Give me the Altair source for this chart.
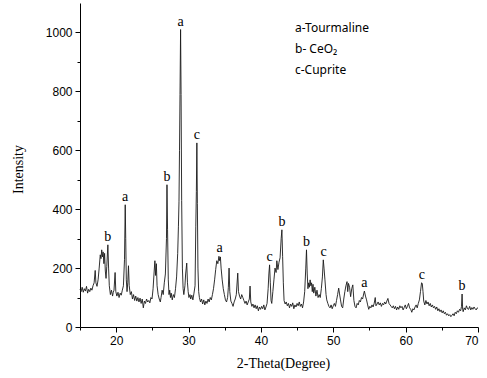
import altair as alt
import pandas as pd

two_theta = [
    15.0, 15.15, 15.3, 15.45, 15.6, 15.75, 15.9, 16.05, 16.2, 16.35, 16.5, 16.65, 16.8, 16.95,
    17.1, 17.2, 17.35, 17.5, 17.65, 17.8, 17.9, 18.0, 18.1, 18.2, 18.3, 18.4, 18.5, 18.6, 18.7,
    18.85, 18.95, 19.05, 19.2, 19.35, 19.5, 19.6, 19.7, 19.85, 19.95, 20.1, 20.25, 20.4, 20.55,
    20.7, 20.85, 21.0, 21.15, 21.25, 21.32, 21.4, 21.5, 21.6, 21.7, 21.8, 21.95, 22.1, 22.25,
    22.4, 22.55, 22.7, 22.85, 23.0, 23.15, 23.3, 23.45, 23.6, 23.75, 23.9, 24.05, 24.2, 24.35,
    24.5, 24.65, 24.8, 24.95, 25.1, 25.25, 25.35, 25.45, 25.55, 25.65, 25.8, 25.95, 26.1, 26.2,
    26.35, 26.5, 26.65, 26.8, 26.95, 27.02, 27.1, 27.2, 27.3, 27.4, 27.5, 27.6, 27.75, 27.9,
    28.05, 28.2, 28.35, 28.5, 28.6, 28.68, 28.75, 28.82, 28.9, 28.97, 29.05, 29.15, 29.25, 29.35,
    29.5, 29.6, 29.75, 29.85, 29.95, 30.05, 30.2, 30.3, 30.45, 30.6, 30.75, 30.9, 31.0, 31.08,
    31.15, 31.22, 31.3, 31.4, 31.5, 31.65, 31.8, 31.95, 32.1, 32.25, 32.4, 32.55, 32.7, 32.85,
    33.0, 33.15, 33.3, 33.45, 33.6, 33.75, 33.9, 34.05, 34.2, 34.3, 34.4, 34.5, 34.65, 34.8,
    34.95, 35.1, 35.25, 35.4, 35.5, 35.6, 35.7, 35.85, 36.0, 36.15, 36.3, 36.45, 36.6, 36.8,
    36.9, 37.05, 37.2, 37.35, 37.5, 37.65, 37.8, 37.95, 38.1, 38.25, 38.4, 38.5, 38.6, 38.75,
    38.9, 39.05, 39.2, 39.35, 39.5, 39.65, 39.8, 39.95, 40.1, 40.25, 40.4, 40.55, 40.7, 40.85,
    41.0, 41.1, 41.2, 41.3, 41.4, 41.5, 41.65, 41.8, 41.95, 42.1, 42.2, 42.35, 42.5, 42.65,
    42.8, 42.9, 43.0, 43.1, 43.2, 43.35, 43.5, 43.65, 43.8, 43.95, 44.1, 44.25, 44.4, 44.55,
    44.7, 44.85, 45.0, 45.15, 45.3, 45.45, 45.6, 45.75, 45.9, 46.05, 46.2, 46.3, 46.4, 46.5,
    46.6, 46.7, 46.8, 46.9, 47.0, 47.1, 47.2, 47.3, 47.45, 47.6, 47.75, 47.9, 48.05, 48.2,
    48.35, 48.5, 48.62, 48.72, 48.85, 49.0, 49.1, 49.25, 49.4, 49.55, 49.7, 49.85, 50.0, 50.15,
    50.3, 50.45, 50.6, 50.75, 50.85, 51.0, 51.15, 51.3, 51.45, 51.6, 51.75, 51.9, 52.0, 52.1,
    52.25, 52.4, 52.55, 52.7, 52.85, 53.0, 53.15, 53.3, 53.45, 53.6, 53.75, 53.9, 54.05, 54.2,
    54.3, 54.45, 54.6, 54.75, 54.9, 55.05, 55.2, 55.35, 55.5, 55.65, 55.8, 55.9, 56.05, 56.2,
    56.35, 56.5, 56.65, 56.8, 56.95, 57.1, 57.25, 57.4, 57.55, 57.7, 57.85, 58.0, 58.15, 58.3,
    58.45, 58.6, 58.75, 58.9, 59.05, 59.2, 59.35, 59.5, 59.65, 59.8, 59.95, 60.1, 60.25, 60.4,
    60.55, 60.7, 60.85, 61.0, 61.15, 61.3, 61.45, 61.6, 61.75, 61.9, 62.05, 62.2, 62.3, 62.4,
    62.5, 62.65, 62.8, 62.95, 63.1, 63.25, 63.4, 63.55, 63.7, 63.85, 64.0, 64.15, 64.3, 64.45,
    64.6, 64.75, 64.9, 65.05, 65.2, 65.35, 65.5, 65.65, 65.8, 65.95, 66.1, 66.25, 66.4, 66.55,
    66.7, 66.85, 67.0, 67.15, 67.3, 67.45, 67.6, 67.72, 67.8, 67.88, 67.95, 68.1, 68.25, 68.4,
    68.55, 68.7, 68.85, 69.0, 69.15, 69.3, 69.45, 69.6, 69.75, 69.9, 70.0,
]

intensity = [
    128, 120, 135, 118, 130, 122, 138, 115, 128, 120, 132, 125, 140, 150,
    192, 150, 138, 160, 200, 245, 232, 262, 238, 255, 215, 250, 190, 165, 205,
    279, 200, 140, 110, 125, 105, 118, 125, 185, 120, 105, 118, 100, 115,
    108, 125, 140, 230, 415, 300, 160, 120, 150, 208, 140, 110, 120, 95,
    110, 90, 105, 88, 100, 85, 98, 80, 95, 65, 88, 80, 95, 85,
    90, 82, 100, 95, 130, 190, 225, 175, 215, 140, 110, 95, 85, 100,
    125, 110, 150, 180, 300, 483, 330, 160, 110, 125, 100, 115, 92, 110,
    100, 130, 170, 250, 340, 425, 600, 789, 1010, 789, 430, 200, 130, 110,
    140, 180, 217, 150, 120, 100, 110, 95, 108, 92, 115, 140, 340, 460,
    625, 420, 200, 120, 100, 85, 95, 78, 92, 75, 88, 80, 95, 85,
    100, 92, 110, 130, 160, 195, 225, 215, 240, 225, 238, 200, 160, 130,
    110, 92, 85, 100, 135, 200, 120, 88, 80, 70, 85, 95, 110, 183,
    120, 105, 95, 110, 100, 90, 80, 88, 75, 85, 95, 139, 85, 70,
    78, 65, 75, 62, 72, 55, 68, 60, 70, 62, 75, 58, 68, 80,
    130, 180, 211, 150, 90, 80, 120, 160, 200, 185, 225, 195, 220, 235,
    300, 330, 240, 150, 90, 78, 85, 72, 80, 65, 78, 70, 82, 62,
    75, 68, 80, 72, 85, 70, 78, 65, 85, 120, 200, 262, 180, 130,
    150, 135, 160, 140, 150, 120, 145, 115, 135, 105, 125, 100, 110, 100,
    130, 170, 228, 200, 160, 110, 92, 80, 70, 65, 75, 62, 72, 80,
    70, 90, 110, 132, 115, 92, 70, 65, 95, 120, 140, 154, 120, 148,
    135, 103, 130, 143, 90, 70, 65, 80, 75, 90, 85, 100, 95, 112,
    122, 105, 92, 75, 60, 70, 65, 75, 68, 80, 100, 72, 78, 85,
    75, 82, 70, 80, 75, 85, 78, 88, 97, 80, 75, 70, 65, 72,
    62, 70, 58, 68, 60, 72, 65, 70, 58, 66, 75, 62, 70, 80,
    65, 60, 50, 62, 58, 68, 75, 65, 80, 92, 120, 150, 148, 120,
    88, 75, 90, 78, 85, 72, 80, 68, 75, 65, 70, 60, 68, 55,
    62, 52, 58, 48, 55, 45, 50, 40, 45, 38, 42, 35, 40, 45,
    38, 50, 45, 55, 50, 60, 55, 70, 112, 60, 52, 65, 58, 72,
    62, 60, 70, 58, 66, 60, 68, 62, 58, 65, 63,
]

peak_letters = ["b", "a", "b", "a", "c", "a", "c", "b", "b", "c", "a", "c", "b"]
peak_theta = [18.85, 21.25, 27.02, 28.9, 31.15, 34.3, 41.2, 42.9, 46.3, 48.65, 54.3, 62.25, 67.8]
peak_height = [279, 415, 483, 1010, 625, 240, 211, 330, 262, 228, 122, 150, 112]

x_tick_values = [15, 20, 25, 30, 35, 40, 45, 50, 55, 60, 65, 70]
y_tick_values = [0, 100, 200, 300, 400, 500, 600, 700, 800, 900, 1000]

legend_entries = ["a-Tourmaline", "b- CeO\u2082", "c-Cuprite"]

pattern = pd.DataFrame({"theta": two_theta, "intensity": intensity})
peaks = pd.DataFrame({"letter": peak_letters, "theta": peak_theta, "intensity": peak_height})

x_scale = alt.Scale(domain=[15, 70], nice=False, zero=False)
y_scale = alt.Scale(domain=[0, 1100], nice=False)

x_axis = alt.Axis(
    values=x_tick_values,
    labelExpr="datum.value % 10 === 0 ? datum.label : ''",
    grid=False,
    domainColor="#000000",
    tickColor="#000000",
    tickSize={"condition": {"test": "datum.value % 10 === 0", "value": 5}, "value": 3},
    labelFont="Liberation Sans",
    labelFontSize=12,
    labelColor="#000000",
    labelPadding=3,
    labelOverlap=False,
    title="2-Theta(Degree)",
    titleFont="Liberation Serif",
    titleFontSize=14,
    titleFontWeight="normal",
    titleColor="#000000",
    titleX=203,
    titleY=36,
    titleBaseline="middle",
    titleAlign="center",
)

y_axis = alt.Axis(
    values=y_tick_values,
    labelExpr="datum.value % 200 === 0 ? datum.label : ''",
    format="d",
    grid=False,
    domainColor="#000000",
    tickColor="#000000",
    tickSize={"condition": {"test": "datum.value % 200 === 0", "value": 5}, "value": 3},
    labelFont="Liberation Sans",
    labelFontSize=12,
    labelColor="#000000",
    labelPadding=3,
    labelOverlap=False,
    title="Intensity",
    titleFont="Liberation Serif",
    titleFontSize=14,
    titleFontWeight="normal",
    titleColor="#000000",
    titleX=-62,
    titleY=166,
    titleBaseline="middle",
    titleAlign="center",
)

line = alt.Chart(pattern).mark_line(color="#1a1a1a", strokeWidth=0.9).encode(
    x=alt.X("theta:Q", scale=x_scale, axis=x_axis),
    y=alt.Y("intensity:Q", scale=y_scale, axis=y_axis),
    order="theta:Q",
)

labels = alt.Chart(peaks).mark_text(
    font="Liberation Serif", fontSize=14, color="#000000", baseline="alphabetic", dy=-4
).encode(
    x=alt.X("theta:Q", scale=x_scale, axis=x_axis),
    y=alt.Y("intensity:Q", scale=y_scale, axis=y_axis),
    text="letter:N",
)

legend_layers = []
for i, entry in enumerate(legend_entries):
    legend_layers.append(
        alt.Chart(pd.DataFrame({"k": [0]})).mark_text(
            font="Noto Sans", fontSize=12, color="#000000", align="left", baseline="middle"
        ).encode(
            x=alt.value(215),
            y=alt.value(25 + i * 21),
            text=alt.value(entry),
        )
    )

chart = alt.layer(line, labels, *legend_layers).properties(
    width=398,
    height=324,
    padding={"left": 80, "top": 3, "right": 9, "bottom": 51},
    autosize=alt.AutoSizeParams(type="none"),
    background="white",
).configure_view(stroke=None)

chart.save("out.html", embed_options={"renderer": "svg", "actions": False})
